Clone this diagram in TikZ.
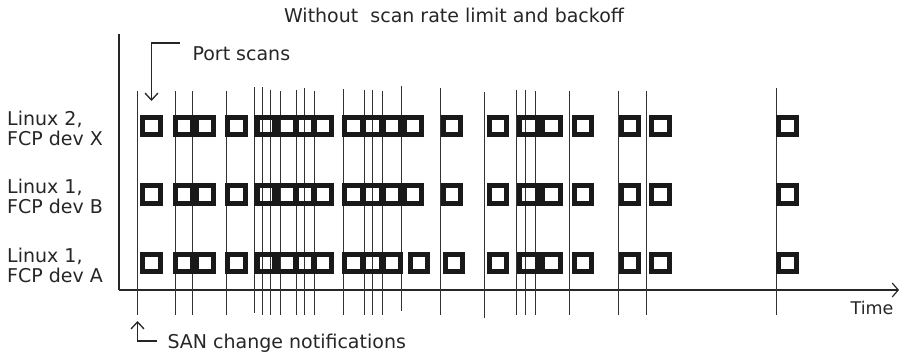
\documentclass[tikz,border=0pt]{standalone}
\usepackage{fontspec}
\setmainfont{DejaVu Sans}
\usepackage{tikz}
\usetikzlibrary{positioning, arrows.meta, calc}

\begin{document}
\begin{tikzpicture}[
            x=1pt, y=-1pt,
            font=\fontsize{19}{20}\selectfont,
            text=black!85,
            scan/.style={draw=black!90, line width=5.2pt, rectangle, minimum size=17.5pt, inner sep=0pt},
            notify/.style={draw=black!80, line width=0.9pt},
            axis/.style={draw=black!85, line width=1.2pt},
            callout/.style={draw=black!85, line width=1.3pt, -{Straight Barb[length=7pt, width=13pt]}},
            hostlabel/.style={anchor=west, align=left, inner sep=0pt},
        ]
        \useasboundingbox (0,0) rectangle (900,358);

        % Title
        \node (title) at (454,15) {Without\ \ scan rate limit and backoff};

        % Draw the axes
        \coordinate (origin) at (119,290);
        \coordinate (y-top) at (119,34);
        \coordinate (x-end) at (899,290);
        \draw[axis] (y-top) -- (origin);
        \draw[axis, -{Straight Barb[length=6pt, width=14pt]}] (origin) -- (x-end);
        \node[anchor=east, font=\fontsize{17.5}{18}\selectfont] (time) at (897,308) {Time};

        % Draw the SAN change notifications
        \foreach \x / \t / \b in {137.5/91/315, 175/91/315, 192/91/315, 226.5/91/315,
                                  254.5/87/313, 262/87/315, 270/90/315, 280.5/91/315,
                                  296.5/90/315, 304.5/88/315, 314/91/315, 343.5/89/315,
                                  364/90/315, 372/90/315, 382/91/315, 401.5/86/311,
                                  440.5/88/315, 484/92/318, 516.7/90/315, 525/90/315,
                                  535/91/315, 569/91/315, 618.3/91/315, 646.7/91/315,
                                  776/88/315}
        \draw[notify] (\x,\t) -- (\x,\b);

        % Draw the port scans of each host
        \foreach \name / \x in {1/151.5, 2/184, 3/205, 4/236.5, 5/265.8, 6/286.5, 7/305,
                                8/323, 9/353.5, 10/372.5, 11/391.7, 12/413, 13/452,
                                14/498, 15/528.5, 16/551.5, 17/583, 18/630, 19/660.5, 20/787.5}
        {
        \node[scan] (X-\name) at (\x,126) {};
        \node[scan] (B-\name) at (\x,194.5) {};
        }
        \foreach \name / \x in {1/151.5, 2/184, 3/205, 4/236.5, 5/265.8, 6/286.5, 7/305,
                                8/323, 9/353.5, 10/372.5, 11/391.7, 12/419, 13/454,
                                14/498, 15/528.5, 16/551.5, 17/583, 18/630, 19/660.5, 20/787.5}
        \node[scan] (A-\name) at (\x,263) {};

        % Host labels
        \node[hostlabel] (host-X) at (7,128) {Linux 2,\\FCP dev X};
        \node[hostlabel] (host-B) at (7,196) {Linux 1,\\FCP dev B};
        \node[hostlabel] (host-A) at (7,265) {Linux 1,\\FCP dev A};

        % Callouts
        \node[anchor=west] (ports) at (189,54) {Port scans};
        \coordinate (ps-start) at (180,43);
        \coordinate (ps-tip) at (151.5,101);
        \draw[callout] (ps-start) -| (ps-tip);

        \node[anchor=west] (san) at (164,343) {SAN change notifications};
        \coordinate (san-start) at (157,341);
        \coordinate (san-tip) at (137.5,321);
        \draw[callout] (san-start) -| (san-tip);
    \end{tikzpicture}
\end{document}
